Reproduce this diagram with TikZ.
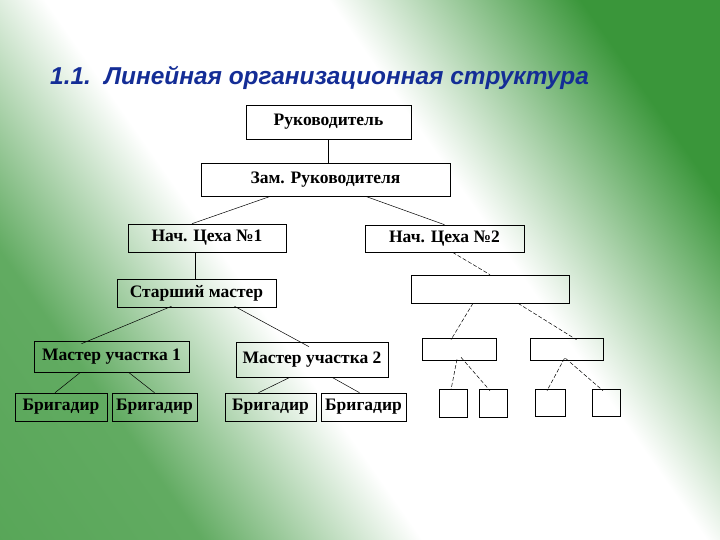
\documentclass[tikz,border=0pt]{standalone}
\usepackage{fontspec}
\setmainfont{Liberation Serif}
\newfontfamily\ttlfont{Liberation Sans}
\definecolor{gr}{RGB}{58,150,58}
\pgfdeclareverticalshading{bgsh}{100bp}{color(0bp)=(gr!90); color(28bp)=(gr!80); color(42bp)=(white); color(60bp)=(white); color(76bp)=(gr); color(100bp)=(gr)}
\begin{document}
\begin{tikzpicture}[x=1pt,y=-1pt,
  bx/.style={draw=black,line width=0.6pt,inner sep=0pt,font=\bfseries\fontsize{17.5}{17.5}\selectfont},
  ln/.style={draw=black,line width=0.5pt},
  dl/.style={draw=black,line width=0.5pt,dash pattern=on 4pt off 2pt}]
\definecolor{ttl}{RGB}{20,45,150}
\useasboundingbox (0,0) rectangle (720,540);
\shade[shading=bgsh,shading angle=-55] (0,0) rectangle (720,540);
\node[font=\ttlfont\bfseries\itshape\fontsize{24.4}{24.4}\selectfont,text=ttl,anchor=west,inner sep=0pt] (t) at (50,78) {1.1.\ \ Линейная организационная структура};
\newcommand{\bxx}[6]{\node[bx,minimum width=#4-#2,minimum height=#5-#3] (#1) at ({(#2+#4)/2},{(#3+#5)/2}) {#6};}
\bxx{r}{246}{105}{411}{139}{Руководитель}
\bxx{z}{201}{163}{450}{196}{Зам. Руководителя}
\bxx{n1}{128}{224}{286}{252}{Нач. Цеха №1}
\bxx{n2}{365}{225}{524}{252}{Нач. Цеха №2}
\bxx{s}{117}{279}{276}{307}{Старший мастер}
\bxx{e}{411}{275}{569}{303}{}
\bxx{m1}{34}{341}{189}{372}{Мастер участка 1}
\bxx{m2}{236}{342}{388}{377}{Мастер участка 2}
\bxx{b1}{15}{393}{107}{421}{Бригадир}
\bxx{b2}{112}{393}{197}{421}{Бригадир}
\bxx{b3}{225}{393}{316}{421}{Бригадир}
\bxx{b4}{321}{393}{406}{421}{Бригадир}
\bxx{e1}{422}{338}{496}{360}{}
\bxx{e2}{530}{338}{603}{360}{}
\bxx{q1}{439}{389}{467}{417}{}
\bxx{q2}{479}{389}{507}{417}{}
\bxx{q3}{535}{389}{565}{416}{}
\bxx{q4}{592}{389}{620}{416}{}
\draw[ln] (r.south) -- (r.south|-z.north);
\draw[ln] ([xshift=-55pt]z.south) -- ([xshift=-15pt]n1.north);
\draw[ln] ([xshift=40pt]z.south) -- ([xshift=0pt]n2.north);
\draw[ln] (n1.south-|195,0) -- (s.north-|195,0);
\draw[ln] ([xshift=-25pt,yshift=1pt]s.south) -- ([xshift=-30pt,yshift=-3pt]m1.north);
\draw[ln] ([xshift=38pt,yshift=1pt]s.south) -- ([xshift=-3pt,yshift=-5pt]m2.north);
\draw[ln] ([xshift=-31pt]m1.south) -- ([xshift=-6pt]b1.north);
\draw[ln] ([xshift=17pt]m1.south) -- ([xshift=0pt]b2.north);
\draw[ln] ([xshift=-22pt]m2.south) -- ([xshift=-12pt]b3.north);
\draw[ln] ([xshift=20pt]m2.south) -- ([xshift=-4pt]b4.north);
\draw[dl] ([xshift=8pt]n2.south) -- (e.north);
\draw[dl] ([xshift=-17pt]e.south) -- ([xshift=-8pt,yshift=-2pt]e1.north);
\draw[dl] ([xshift=28pt]e.south) -- ([xshift=10pt,yshift=-2pt]e2.north);
\draw[dl] ([xshift=-2pt,yshift=1pt]e1.south) -- ([xshift=-2pt,yshift=-1pt]q1.north);
\draw[dl] ([xshift=2pt,yshift=3pt]e1.south) -- ([xshift=-3pt,yshift=-2pt]q2.north);
\draw[dl] ([xshift=-2pt,yshift=2pt]e2.south) -- ([xshift=-3pt,yshift=-2pt]q3.north);
\draw[dl] ([xshift=-1pt,yshift=2pt]e2.south) -- ([xshift=-3pt,yshift=-2pt]q4.north);
\end{tikzpicture}
\end{document}
